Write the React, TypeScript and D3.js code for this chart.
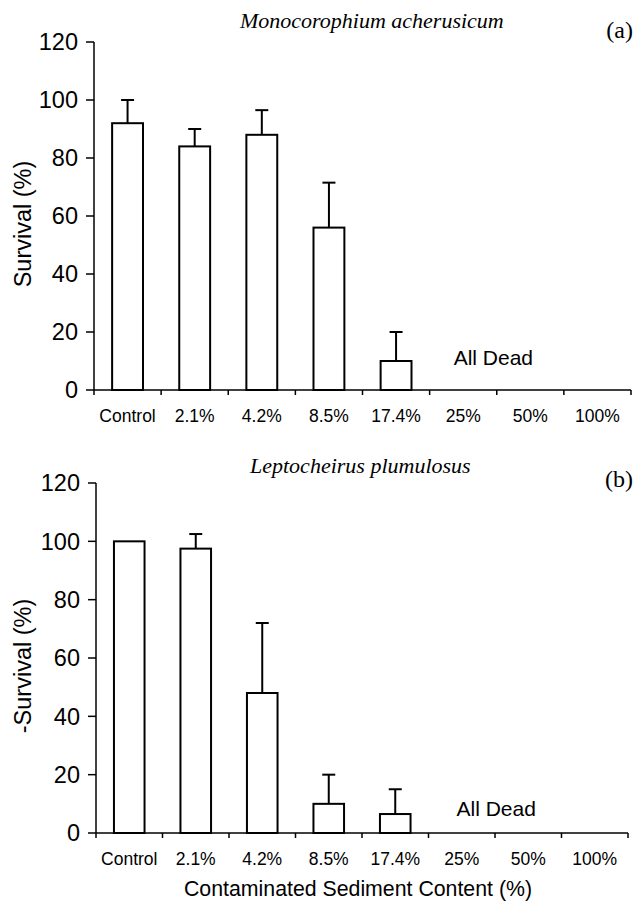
import React, { useRef, useEffect } from "react";
import * as d3 from "d3";

const categories = ["Control", "2.1%", "4.2%", "8.5%", "17.4%", "25%", "50%", "100%"];
const yTicks = [0, 20, 40, 60, 80, 100, 120];

// panel (a) Monocorophium acherusicum
const survivalA = [92, 84, 88, 56, 10, 0, 0, 0];
const errorA = [8, 6, 8.5, 15.5, 10, 0, 0, 0];

// panel (b) Leptocheirus plumulosus
const survivalB = [100, 97.5, 48, 10, 6.5, 0, 0, 0];
const errorB = [0, 5, 24, 10, 8.5, 0, 0, 0];

const width = 638;
const height = 902;
const sans = "'Liberation Sans', Arial, sans-serif";
const serif = "'Liberation Serif', 'Times New Roman', serif";

interface PanelCfg {
  values: number[];
  errors: number[];
  left: number;
  right: number;
  top: number;
  bottom: number;
  title: string;
  titleX: number;
  titleY: number;
  tag: string;
  tagY: number;
  yLabel: string;
  deadX: number;
  deadY: number;
}

const panels: PanelCfg[] = [
  {
    values: survivalA,
    errors: errorA,
    left: 94,
    right: 631,
    top: 42,
    bottom: 390,
    title: "Monocorophium acherusicum",
    titleX: 240,
    titleY: 28,
    tag: "(a)",
    tagY: 38,
    yLabel: "Survival (%)",
    deadX: 24,
    deadY: 8.6,
  },
  {
    values: survivalB,
    errors: errorB,
    left: 96,
    right: 628,
    top: 483,
    bottom: 833,
    title: "Leptocheirus plumulosus",
    titleX: 250,
    titleY: 473,
    tag: "(b)",
    tagY: 487,
    yLabel: "-Survival (%)",
    deadX: 28,
    deadY: 5.9,
  },
];

const App: React.FC = () => {
  const ref = useRef<SVGSVGElement>(null);

  useEffect(() => {
    if (!ref.current) return;
    const svg = d3.select(ref.current);
    svg.selectAll("*").remove();

    svg.append("rect").attr("width", width).attr("height", height).attr("fill", "#fff");

    panels.forEach((p) => {
      const g = svg.append("g");

      const x = d3
        .scaleBand<string>()
        .domain(categories)
        .range([p.left, p.right])
        .paddingInner(0.54)
        .paddingOuter(0.27);
      const band = d3.scaleBand<string>().domain(categories).range([p.left, p.right]);
      const y = d3.scaleLinear().domain([0, 120]).range([p.bottom, p.top]);

      // bars
      categories.forEach((c, i) => {
        const v = p.values[i];
        if (v <= 0) return;
        g.append("rect")
          .attr("x", x(c)!)
          .attr("y", y(v))
          .attr("width", x.bandwidth())
          .attr("height", y(0) - y(v))
          .attr("fill", "#fff")
          .attr("stroke", "#000")
          .attr("stroke-width", 2);
        const e = p.errors[i];
        if (e > 0) {
          const cx = x(c)! + x.bandwidth() / 2;
          g.append("line")
            .attr("x1", cx)
            .attr("x2", cx)
            .attr("y1", y(v))
            .attr("y2", y(v + e))
            .attr("stroke", "#000")
            .attr("stroke-width", 2);
          g.append("line")
            .attr("x1", cx - 6.5)
            .attr("x2", cx + 6.5)
            .attr("y1", y(v + e))
            .attr("y2", y(v + e))
            .attr("stroke", "#000")
            .attr("stroke-width", 2);
        }
      });

      // y axis
      g.append("line")
        .attr("x1", p.left)
        .attr("x2", p.left)
        .attr("y1", y(120))
        .attr("y2", y(0))
        .attr("stroke", "#000")
        .attr("stroke-width", 1.5);
      yTicks.forEach((t) => {
        g.append("line")
          .attr("x1", p.left - 8)
          .attr("x2", p.left)
          .attr("y1", y(t))
          .attr("y2", y(t))
          .attr("stroke", "#000")
          .attr("stroke-width", 1.5);
        g.append("text")
          .attr("x", p.left - 16)
          .attr("y", y(t))
          .attr("dy", "0.36em")
          .attr("text-anchor", "end")
          .attr("font-family", sans)
          .attr("font-size", 23.5)
          .text(t);
      });

      // x axis
      g.append("line")
        .attr("x1", p.left)
        .attr("x2", p.right)
        .attr("y1", y(0))
        .attr("y2", y(0))
        .attr("stroke", "#000")
        .attr("stroke-width", 1.5);
      [...categories.map((c) => band(c)!), p.right].forEach((tx) => {
        g.append("line")
          .attr("x1", tx)
          .attr("x2", tx)
          .attr("y1", y(0))
          .attr("y2", y(0) + 5)
          .attr("stroke", "#000")
          .attr("stroke-width", 1.5);
      });
      categories.forEach((c) => {
        g.append("text")
          .attr("x", band(c)! + band.bandwidth() / 2)
          .attr("y", y(0) + 32)
          .attr("text-anchor", "middle")
          .attr("font-family", sans)
          .attr("font-size", 17.5)
          .text(c);
      });

      // y label
      const ly = (p.top + p.bottom) / 2 + 8;
      g.append("text")
        .attr("transform", `translate(31,${ly}) rotate(-90)`)
        .attr("text-anchor", "middle")
        .attr("font-family", sans)
        .attr("font-size", 23.5)
        .text(p.yLabel);

      // title and tag
      g.append("text")
        .attr("x", p.titleX)
        .attr("y", p.titleY)
        .attr("font-family", serif)
        .attr("font-style", "italic")
        .attr("font-size", 22)
        .text(p.title);
      g.append("text")
        .attr("x", 633)
        .attr("y", p.tagY)
        .attr("text-anchor", "end")
        .attr("font-family", serif)
        .attr("font-size", 24)
        .text(p.tag);

      g.append("text")
        .attr("x", band("25%")! + p.deadX)
        .attr("y", y(p.deadY))
        .attr("font-family", sans)
        .attr("font-size", 21)
        .text("All Dead");
    });

    svg
      .append("text")
      .attr("x", 358)
      .attr("y", 896)
      .attr("text-anchor", "middle")
      .attr("font-family", sans)
      .attr("font-size", 21.3)
      .text("Contaminated Sediment Content (%)");
  }, []);

  return (
    <div style={{ position: "absolute", left: 0, top: 0 }}>
      <svg ref={ref} width={width} height={height} style={{ display: "block" }} />
    </div>
  );
};

export default App;
